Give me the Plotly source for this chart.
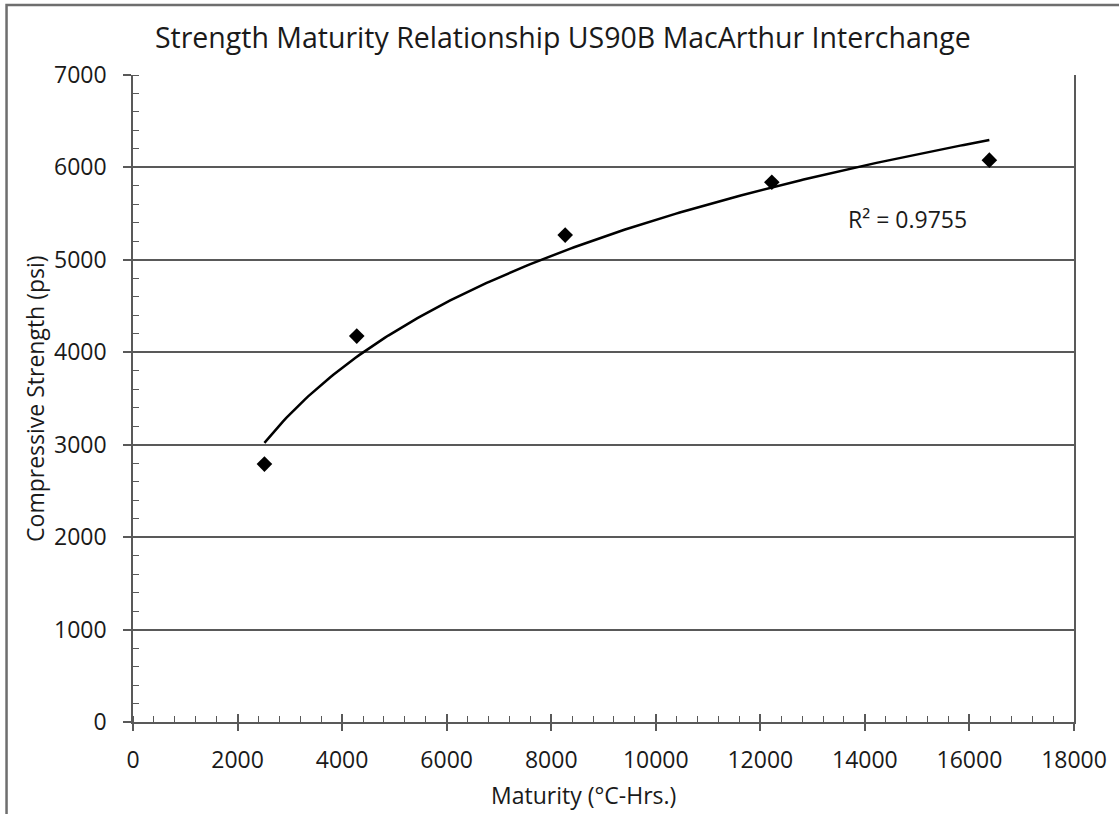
import numpy as np
import plotly.graph_objects as go

# Data
maturity = [2514, 4280, 8267, 12220, 16381]          # °C-Hrs.
strength = [2790, 4175, 5268, 5840, 6079]            # psi
r2_label = "R² = 0.9755"
r2_pos = (14819, 5440)
x_ticks = [0, 2000, 4000, 6000, 8000, 10000, 12000, 14000, 16000, 18000]
x_ticktext = [str(v) for v in x_ticks]
y_ticks = [0, 1000, 2000, 3000, 4000, 5000, 6000, 7000]
y_ticktext = [str(v) for v in y_ticks]

title_text = "Strength Maturity Relationship US90B MacArthur Interchange"
x_title = "Maturity (°C-Hrs.)"
y_title = "Compressive Strength (psi)"

# Logarithmic trendline fit (as Excel does)
lx = np.log(np.array(maturity, dtype=float))
a, b = np.polyfit(lx, np.array(strength, dtype=float), 1)
xf = np.linspace(min(maturity), max(maturity), 200)
yf = a * np.log(xf) + b

FONT = "Open Sans"
TXT = "#1a1a1a"
LINE = "#595959"
FS = 23

fig = go.Figure()
fig.add_trace(go.Scatter(x=xf, y=yf, mode="lines",
                         line=dict(color="black", width=2.5),
                         showlegend=False, hoverinfo="skip"))
fig.add_trace(go.Scatter(x=maturity, y=strength, mode="markers",
                         marker=dict(symbol="diamond", size=12, color="black"),
                         showlegend=False))
# invisible trace on overlay axis to carry the inside part of major x ticks
fig.add_trace(go.Scatter(x=[x_ticks[0]], y=[y_ticks[0]], xaxis="x2", mode="markers",
                         marker=dict(opacity=0), showlegend=False, hoverinfo="skip"))

fig.add_annotation(x=r2_pos[0], y=r2_pos[1], text=r2_label, showarrow=False,
                   font=dict(family=FONT, size=FS, color=TXT))
fig.add_annotation(x=(585 - 133) / 945, y=(722 - 795) / 647, xref="paper", yref="paper",
                   text=x_title, showarrow=False, xanchor="center", yanchor="middle",
                   font=dict(family=FONT, size=FS, color=TXT))
fig.add_annotation(x=(34 - 133) / 945, y=0.5, xref="paper", yref="paper",
                   text=y_title, showarrow=False, textangle=-90,
                   xanchor="center", yanchor="middle",
                   font=dict(family=FONT, size=FS, color=TXT))

fig.update_layout(
    width=1119, height=814,
    margin=dict(l=133, r=41, t=75, b=92),
    paper_bgcolor="white", plot_bgcolor="white",
    title=dict(text=title_text, x=0.503, xref="container", y=1 - 38 / 814,
               yref="container", xanchor="center", yanchor="middle",
               font=dict(family=FONT, size=28.5, color=TXT)),
    font=dict(family=FONT, color=TXT),
    xaxis=dict(range=[0, 18000], tickvals=x_ticks, ticktext=x_ticktext,
               showgrid=False, zeroline=False,
               showline=True, linecolor=LINE, linewidth=1.5, mirror=False,
               ticks="outside", ticklen=7, tickwidth=1.5, tickcolor=LINE,
               ticklabelstandoff=10,
               minor=dict(ticks="inside", dtick=400, ticklen=6, tickwidth=1.2,
                          tickcolor=LINE, showgrid=False),
               tickfont=dict(family=FONT, size=FS, color=TXT)),
    xaxis2=dict(range=[0, 18000], overlaying="x", side="bottom", tickvals=x_ticks,
                showticklabels=False, showgrid=False, zeroline=False, showline=False,
                ticks="inside", ticklen=8, tickwidth=1.5, tickcolor=LINE),
    yaxis=dict(range=[0, 7000], tickvals=y_ticks, ticktext=y_ticktext,
               showgrid=True, gridcolor=LINE, gridwidth=1.5, zeroline=False,
               showline=True, linecolor=LINE, linewidth=1.5, mirror=True,
               ticks="outside", ticklen=8, tickwidth=1.5, tickcolor=LINE,
               ticklabelstandoff=12,
               minor=dict(ticks="inside", dtick=200, ticklen=6, tickwidth=1.2,
                          tickcolor=LINE, showgrid=False),
               tickfont=dict(family=FONT, size=FS, color=TXT)),
    shapes=[dict(type="rect", xref="paper", yref="paper",
                 x0=(6 - 133) / 945, x1=(1400 - 133) / 945,
                 y0=(722 - 1000) / 647, y1=(722 - 5) / 647,
                 line=dict(color="#6e6e6e", width=2.5), layer="below")],
)

fig.write_html("out.html", config={"displayModeBar": False},
               post_script="document.body.style.margin='0';document.body.style.padding='0';")
